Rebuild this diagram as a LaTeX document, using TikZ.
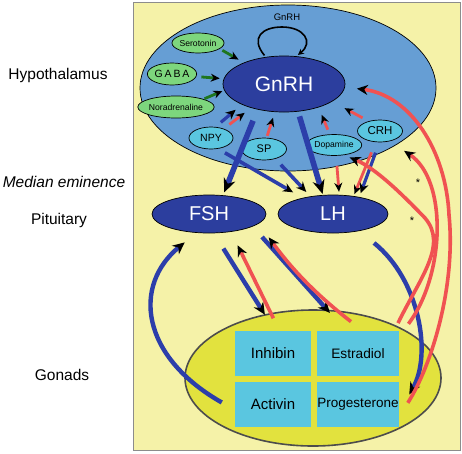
\documentclass[tikz,border=0pt]{standalone}
\usepackage{fontspec}
\setmainfont{Liberation Sans}
\newfontfamily\spacedfont[LetterSpace=18]{Liberation Sans}
\usetikzlibrary{shapes.geometric,arrows.meta}

\definecolor{bgyellow}{RGB}{245,242,168}
\definecolor{hypblue}{RGB}{102,158,212}
\definecolor{hormblue}{RGB}{44,62,158}
\definecolor{modgreen}{RGB}{125,214,125}
\definecolor{neurocyan}{RGB}{90,198,224}
\definecolor{gonyellow}{RGB}{226,226,62}
\definecolor{arrred}{RGB}{240,82,82}
\definecolor{arrblue}{RGB}{44,62,170}
\definecolor{arrgreen}{RGB}{30,118,30}

\begin{document}
\begin{tikzpicture}[x=1pt, y=-1pt,
  blob/.style={ellipse, draw=black, line width=0.7pt, inner sep=0pt},
  hormone/.style={blob, fill=hormblue, text=white},
  modul/.style={blob, fill=modgreen},
  neuro/.style={blob, fill=neurocyan},
  steroid/.style={rectangle, fill=neurocyan, inner sep=0pt, minimum width=#1, minimum height=45pt},
  side/.style={font=\fontsize{15.5}{18}\selectfont},
  redarr/.style={draw=arrred, line width=3.6pt, -{Stealth[black,length=11pt,width=10pt]}},
  smallred/.style={draw=arrred, line width=2.8pt, -{Stealth[black,length=9pt,width=8pt]}},
  bluearr/.style={draw=arrblue, line width=4.4pt, -{Stealth[black,length=12pt,width=11pt]}},
  thickblue/.style={draw=arrblue, line width=5.6pt, -{Stealth[black,length=14pt,width=12pt]}},
  smallblue/.style={draw=arrblue, line width=3.2pt, -{Stealth[black,length=10pt,width=9pt]}},
  grnarr/.style={draw=arrgreen, line width=2.8pt, -{Stealth[black,length=9pt,width=8pt]}}]
  \useasboundingbox (0,0) rectangle (462,453);
  \draw[fill=bgyellow, draw=black!45, line width=0.8pt] (133,2) rectangle (460,450);

  % levels
  \node[side] (lvlhyp) at (58,75) {Hypothalamus};
  \node[side, font=\fontsize{15.5}{18}\selectfont\itshape] (lvlme) at (64,182) {Median eminence};
  \node[side] (lvlpit) at (59,220) {Pituitary};
  \node[side] (lvlgon) at (62,375) {Gonads};

  % hypothalamus
  \node[blob, fill=hypblue, minimum width=296pt, minimum height=166pt] (hyp) at (288,88) {};
  \node[hormone, minimum width=122pt, minimum height=56pt, font=\fontsize{21}{24}\selectfont] (gnrh) at (284,84) {GnRH};
  \node[font=\fontsize{9.5}{11}\selectfont] (autognrh) at (287,17) {GnRH};
  \node[modul, minimum width=44pt, minimum height=20pt, font=\fontsize{8.6}{10}\selectfont] (sero) at (198,43) {Serotonin};
  \node[modul, minimum width=46pt, minimum height=22pt, font=\spacedfont\fontsize{10.5}{12}\selectfont] (gaba) at (172,74) {GABA};
  \node[modul, minimum width=60pt, minimum height=22pt, font=\fontsize{8.6}{10}\selectfont] (nora) at (176,107) {Noradrenaline};
  \node[neuro, minimum width=44pt, minimum height=22pt, font=\fontsize{10.5}{12}\selectfont] (npy) at (211,138) {NPY};
  \node[neuro, minimum width=45pt, minimum height=22pt, font=\fontsize{11}{12}\selectfont] (sp) at (264,149) {SP};
  \node[neuro, minimum width=46pt, minimum height=21pt, font=\fontsize{8.6}{10}\selectfont] (dopa) at (334,145) {Dopamine};
  \node[neuro, minimum width=45pt, minimum height=22pt, font=\fontsize{11.5}{13}\selectfont] (crh) at (380,131) {CRH};

  % pituitary
  \node[hormone, minimum width=114pt, minimum height=38pt, font=\fontsize{20}{24}\selectfont] (fsh) at (209,214) {FSH};
  \node[hormone, minimum width=110pt, minimum height=38pt, font=\fontsize{20}{24}\selectfont] (lh) at (333,214) {LH};
  \node[font=\fontsize{11}{12}\selectfont] (astA) at (418,183) {*};
  \node[font=\fontsize{11}{12}\selectfont] (astB) at (412,221) {*};

  % gonads
  \node[ellipse, draw=black!70, line width=1.6pt, fill=gonyellow, minimum width=256pt, minimum height=136pt] (gon) at (313,378) {};
  \node[steroid=76pt, font=\fontsize{15}{18}\selectfont] (inh) at (273,353.5) {Inhibin};
  \node[steroid=82pt, font=\fontsize{13.7}{16}\selectfont] (estr) at (358,353.5) {Estradiol};
  \node[steroid=76pt, font=\fontsize{15}{18}\selectfont] (actv) at (273,404.5) {Activin};
  \node[steroid=82pt, font=\fontsize{13.5}{16}\selectfont] (prog) at (358,404.5) {Progesterone};

  % inputs to GnRH
  \draw[line width=1.6pt, -{Stealth[black,length=6pt,width=6pt]}, shorten <=2pt, shorten >=2pt]
    (gnrh.124) .. controls (250,38) and (262,27) .. (282,27) .. controls (304,27) and (314,42) .. (gnrh.66);
  \draw[grnarr, shorten <=3pt, shorten >=6pt] (sero.345) -- (gnrh.152);
  \draw[grnarr, shorten <=5pt, shorten >=4pt] (gaba.354) -- (gnrh.175);
  \draw[grnarr, shorten <=1pt, shorten >=2pt] (nora.16) -- (gnrh.186);
  \draw[smallblue, shorten <=7pt, shorten >=8pt] (npy.68) -- (gnrh.206);
  \draw[smallred, shorten <=7pt, shorten >=8pt] (npy.36) -- (gnrh.216);
  \draw[smallred, shorten <=2pt, shorten >=6pt] (sp.77) -- (gnrh.252);
  \draw[smallred, shorten <=5pt, shorten >=8pt] (dopa.112) -- (gnrh.326);
  \draw[smallred, shorten <=7pt, shorten >=14pt] (crh.139) -- (gnrh.340);

  % hypothalamus to pituitary
  \draw[thickblue, shorten <=12pt, shorten >=3pt] (gnrh.224) -- (fsh.53);
  \draw[thickblue, shorten <=5pt, shorten >=1pt] (gnrh.297) -- (lh.118);
  \draw[smallblue, line width=3.6pt, shorten <=8pt, shorten >=11pt] (npy.303) -- (lh.152);
  \draw[smallblue, line width=3.6pt, shorten <=8pt, shorten >=6pt] (sp.319) -- (lh.142);
  \draw[smallred, shorten <=10pt, shorten >=3pt] (dopa.281) -- (lh.72);
  \draw[smallred, shorten <=11pt, shorten >=2pt] (crh.249) -- (lh.41);
  \draw[smallblue, shorten <=11pt, shorten >=4pt] (crh.267) -- (lh.33);

  % pituitary and gonads
  \draw[bluearr, shorten <=18pt, shorten >=19pt] (fsh.284) -- (inh.85);
  \draw[redarr, shorten <=14pt, shorten >=15pt] (inh.74) -- (fsh.321);
  \draw[bluearr, shorten <=14pt, shorten >=24pt] (fsh.344) -- (estr.118);
  \draw[redarr, shorten <=15pt, shorten >=17pt] (estr.78) to[bend left=8] (fsh.349);
  \draw[bluearr, shorten <=19pt, shorten >=20pt] (lh.327) .. controls (420,280) and (432,355) .. (prog.-10);
  \draw[bluearr, shorten <=15pt, shorten >=15pt] (actv.188) .. controls (140,356) and (132.6,285.2) .. (fsh.236);

  % feedback to hypothalamus
  \draw[redarr, shorten <=16pt, shorten >=12pt] (prog.344) .. controls (432,365) and (456,285) .. (449,215)
    .. controls (446,150) and (410,95) .. (gnrh.357);
  \draw[redarr, shorten <=7pt, shorten >=10pt] (gon.28) .. controls (445,275) and (448,180) .. (hyp.332);
  \draw[redarr, shorten <=3pt, shorten >=6pt] (gon.32) .. controls (420,278) and (448,245) .. (425,218)
    .. controls (400,192) and (375,168) .. (dopa.315);
\end{tikzpicture}
\end{document}
